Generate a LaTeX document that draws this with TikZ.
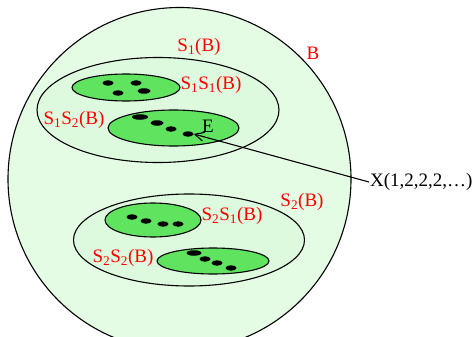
\documentclass[tikz,border=0pt]{standalone}
\usepackage{fontspec}
\setmainfont{Liberation Serif}
\usepackage{xcolor}
\usetikzlibrary{arrows.meta,shapes.geometric}
\definecolor{paleg}{RGB}{228,252,228}
\definecolor{setg}{RGB}{222,250,222}
\definecolor{subg}{RGB}{96,228,96}
\tikzset{
  whole/.style={circle, draw, line width=1.1pt, fill=paleg, inner sep=0pt,
                minimum size=343pt},
  part/.style={ellipse, draw, line width=1.1pt, fill=setg, inner sep=0pt},
  sub/.style={ellipse, draw, line width=1.1pt, fill=subg, inner sep=0pt},
  elem/.style={ellipse, fill=black, inner sep=0pt, minimum width=11pt,
               minimum height=5.5pt},
  lbl/.style={text=red, font=\fontsize{19}{22}\selectfont, inner sep=1pt},
  txt/.style={font=\fontsize{19}{22}\selectfont, inner sep=1pt},
  fl/.style={-{Straight Barb[length=9pt,width=9pt]}, line width=1.1pt},
}
\begin{document}
\begin{tikzpicture}[x=1pt,y=-1pt]
\useasboundingbox (0,0) rectangle (474,337);
\clip (0,0) rectangle (474,337);
\node[whole] (b) at (179.5,179) {};
% first level
\node[part, minimum width=242pt, minimum height=105pt] (s1) at (158,110) {};
\node[part, minimum width=231pt, minimum height=92pt] (s2) at (189,240) {};
% second level
\node[sub, minimum width=108pt, minimum height=27pt] (s11) at (126,87.5) {};
\node[sub, minimum width=131pt, minimum height=36pt] (s12) at (173.5,128) {};
\node[sub, minimum width=96pt, minimum height=34pt] (s21) at (153,220) {};
\node[sub, minimum width=112pt, minimum height=26pt] (s22) at (213,261) {};
% points
\node[elem] (p1) at (108,83) {};
\node[elem] (p2) at (136,83) {};
\node[elem] (p3) at (118,93) {};
\node[elem, minimum width=13pt] (p4) at (144,91) {};
\node[elem, minimum width=16pt] (q1) at (140,117) {};
\node[elem, minimum width=13pt] (q2) at (157,123) {};
\node[elem] (q3) at (171,129) {};
\node[elem] (q4) at (188,134) {};
\node[elem] (r1) at (132,217) {};
\node[elem] (r2) at (146,221) {};
\node[elem] (r3) at (163,224) {};
\node[elem] (r4) at (178,224) {};
\node[elem, minimum width=15pt] (t1) at (194,253) {};
\node[elem] (t2) at (205,259) {};
\node[elem] (t3) at (217,263) {};
\node[elem] (t4) at (231,268) {};
% labels
\node[lbl] (lb) at (313,53) {B};
\node[lbl] (l1) at (199,47) {S\textsubscript{1}(B)};
\node[lbl] (l11) at (211,85) {S\textsubscript{1}S\textsubscript{1}(B)};
\node[lbl] (l12) at (74,120) {S\textsubscript{1}S\textsubscript{2}(B)};
\node[lbl] (l2) at (302,202) {S\textsubscript{2}(B)};
\node[lbl] (l21) at (232,216) {S\textsubscript{2}S\textsubscript{1}(B)};
\node[lbl] (l22) at (123,258) {S\textsubscript{2}S\textsubscript{2}(B)};
\node[txt] (e) at (208,126) {E};
\node[txt, anchor=west] (x) at (369,182) {X(1,2,2,2,\dots)};
\draw[fl] (x.west) -- (q4.east);
\end{tikzpicture}
\end{document}
